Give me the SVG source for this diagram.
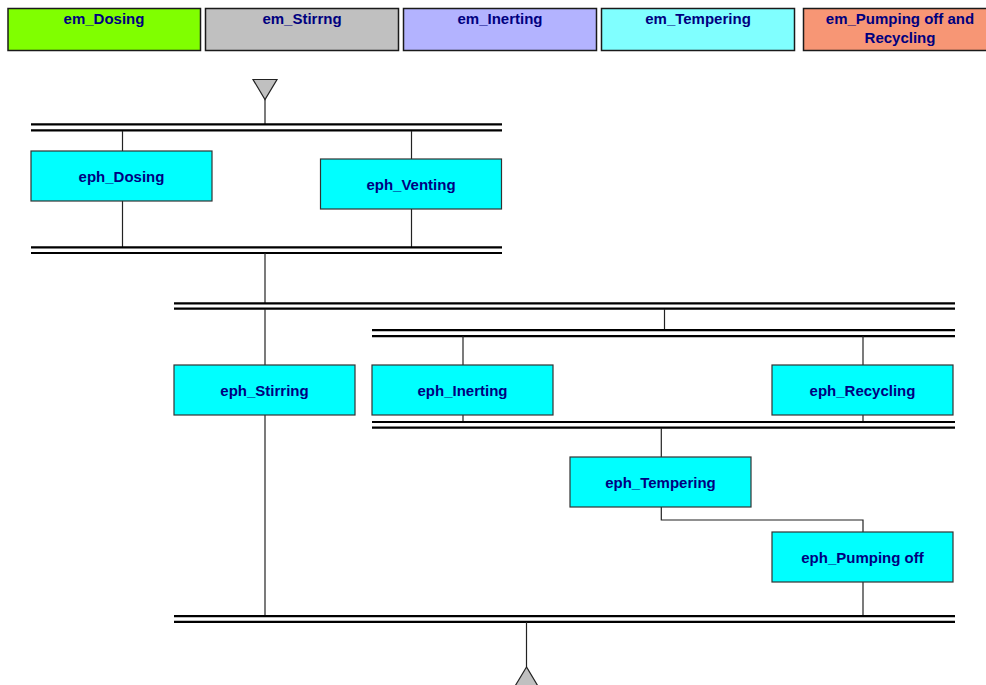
<svg xmlns="http://www.w3.org/2000/svg" width="986" height="685" viewBox="0 0 986 685">
<style>
.hdr{stroke:#1a1a1a;stroke-width:1.5}
.box{fill:#00FFFF;stroke:#333;stroke-width:1.2}
.t{font-family:"Liberation Sans",Arial,sans-serif;font-weight:bold;font-size:15px;fill:#00007F;text-anchor:middle}
.bar{stroke:#000;stroke-width:2.2;fill:none}
.ln{stroke:#222;stroke-width:1.2;fill:none}
.tri{fill:#C0C0C0;stroke:#222;stroke-width:1.2}
</style>
<rect width="986" height="685" fill="#fff"/>
<g id="headers">
<g id="em_Dosing"><rect class="hdr" x="8" y="8.5" width="192.5" height="42" fill="#80FF00"/><text class="t" x="104" y="24">em_Dosing</text></g>
<g id="em_Stirrng"><rect class="hdr" x="205.5" y="8.5" width="193" height="42" fill="#C0C0C0"/><text class="t" x="302" y="24">em_Stirrng</text></g>
<g id="em_Inerting"><rect class="hdr" x="403.5" y="8.5" width="193" height="42" fill="#B3B3FF"/><text class="t" x="500" y="24">em_Inerting</text></g>
<g id="em_Tempering"><rect class="hdr" x="601.5" y="8.5" width="193" height="42" fill="#80FFFF"/><text class="t" x="698" y="24">em_Tempering</text></g>
<g id="em_Pumping"><rect class="hdr" x="803.5" y="8.5" width="190" height="42" fill="#F79675"/><text class="t" x="900" y="24">em_Pumping off and</text><text class="t" x="900" y="43">Recycling</text></g>
</g>
<g id="connectors">
<line class="ln" x1="265" y1="99" x2="265" y2="124"/>
<line class="bar" x1="31" y1="124.3" x2="502" y2="124.3"/>
<line class="bar" x1="31" y1="130.3" x2="502" y2="130.3"/>
<line class="ln" x1="122.5" y1="131" x2="122.5" y2="151"/>
<line class="ln" x1="122.5" y1="201" x2="122.5" y2="247"/>
<line class="ln" x1="411.5" y1="131" x2="411.5" y2="159"/>
<line class="ln" x1="411.5" y1="209" x2="411.5" y2="247"/>
<line class="bar" x1="31" y1="247.3" x2="502" y2="247.3"/>
<line class="bar" x1="31" y1="253" x2="502" y2="253"/>
<line class="ln" x1="265" y1="253" x2="265" y2="303"/>
<line class="bar" x1="174" y1="303.3" x2="955" y2="303.3"/>
<line class="bar" x1="174" y1="308.7" x2="955" y2="308.7"/>
<line class="ln" x1="265" y1="309" x2="265" y2="365"/>
<line class="ln" x1="265" y1="415" x2="265" y2="616"/>
<line class="ln" x1="664.5" y1="309" x2="664.5" y2="330"/>
<line class="bar" x1="372" y1="330.2" x2="955" y2="330.2"/>
<line class="bar" x1="372" y1="336.2" x2="955" y2="336.2"/>
<line class="ln" x1="463" y1="336" x2="463" y2="365"/>
<line class="ln" x1="463" y1="415" x2="463" y2="422"/>
<line class="ln" x1="863" y1="336" x2="863" y2="365"/>
<line class="ln" x1="863" y1="415" x2="863" y2="422"/>
<line class="bar" x1="372" y1="422" x2="955" y2="422"/>
<line class="bar" x1="372" y1="427.7" x2="955" y2="427.7"/>
<line class="ln" x1="661.3" y1="428" x2="661.3" y2="457"/>
<polyline class="ln" points="661.3,507 661.3,520 863,520 863,532"/>
<line class="ln" x1="863" y1="582" x2="863" y2="616"/>
<line class="bar" x1="174" y1="616.2" x2="955" y2="616.2"/>
<line class="bar" x1="174" y1="621.8" x2="955" y2="621.8"/>
<line class="ln" x1="526.5" y1="622" x2="526.5" y2="667"/>
</g>
<g id="start"><polygon class="tri" points="253,79.5 277,79.5 265,99.5"/></g>
<g id="end"><polygon class="tri" points="526.5,667 514.5,687 538.5,687"/></g>
<g id="eph_Dosing"><rect class="box" x="31" y="151" width="181" height="50"/><text class="t" x="121.5" y="181.5">eph_Dosing</text></g>
<g id="eph_Venting"><rect class="box" x="320.5" y="159" width="181" height="50"/><text class="t" x="411" y="189.5">eph_Venting</text></g>
<g id="eph_Stirring"><rect class="box" x="174" y="365" width="181" height="50"/><text class="t" x="264.5" y="395.5">eph_Stirring</text></g>
<g id="eph_Inerting"><rect class="box" x="372" y="365" width="181" height="50"/><text class="t" x="462.5" y="395.5">eph_Inerting</text></g>
<g id="eph_Recycling"><rect class="box" x="772" y="365" width="181" height="50"/><text class="t" x="862.5" y="395.5">eph_Recycling</text></g>
<g id="eph_Tempering"><rect class="box" x="570" y="457" width="181" height="50"/><text class="t" x="660.5" y="487.5">eph_Tempering</text></g>
<g id="eph_Pumping_off"><rect class="box" x="772" y="532" width="181" height="50"/><text class="t" x="862.5" y="562.5">eph_Pumping off</text></g>
</svg>
